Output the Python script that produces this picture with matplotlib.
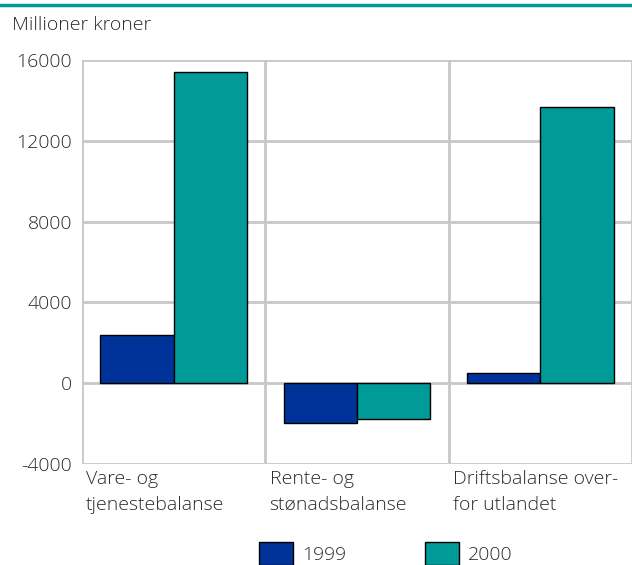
import matplotlib

matplotlib.use("Agg")

import matplotlib.pyplot as plt
import matplotlib.transforms as mtransforms
from matplotlib.lines import Line2D
from matplotlib.patches import Patch

categories = ["Vare- og\ntjenestebalanse", "Rente- og\nstønadsbalanse", "Driftsbalanse over-\nfor utlandet"]
series_names = ["1999", "2000"]
values_1999 = [2400, -1950, 500]
values_2000 = [15400, -1780, 13650]
y_ticks = [-4000, 0, 4000, 8000, 12000, 16000]

BLUE = "#00339a"
TEAL = "#009a98"
GRID = "#c8c8c8"
TEXT = "#2b2b2b"
FS = 14

plt.rcParams["font.family"] = ["Open Sans", "DejaVu Sans"]
plt.rcParams["font.weight"] = "light"

fig = plt.figure(figsize=(6.32, 5.65), dpi=100)
ax = fig.add_axes([82 / 632, 1 - 464 / 565, 1 - 82 / 632, (464 - 60) / 565])

# teal rule across the top
fig.add_artist(Line2D([0, 1], [1 - 5 / 565, 1 - 5 / 565], color=TEAL, lw=2.5,
                      transform=fig.transFigure))

width = 0.4
xs = range(len(categories))
ax.bar([x - width / 2 for x in xs], values_1999, width, color=BLUE,
       edgecolor="black", linewidth=1, zorder=3)
ax.bar([x + width / 2 for x in xs], values_2000, width, color=TEAL,
       edgecolor="black", linewidth=1, zorder=3)

ax.set_xlim(-0.5, len(categories) - 0.5)
ax.set_ylim(-4000, 16000)
ax.set_yticks(y_ticks)
ax.set_yticklabels([str(t) for t in y_ticks], fontsize=FS, color=TEXT)
ax.set_xticks([])
ax.tick_params(axis="y", length=0, pad=7)

for y in y_ticks:
    ax.axhline(y, color=GRID, lw=2, zorder=1)
for x in [-0.5, 0.5, 1.5, 2.5]:
    ax.axvline(x, color=GRID, lw=2, zorder=1)
for spine in ax.spines.values():
    spine.set_visible(False)

label_trans = mtransforms.offset_copy(
    mtransforms.blended_transform_factory(ax.transData, ax.transAxes),
    fig=fig, x=3, y=-4, units="points")
for i, label in enumerate(categories):
    ax.text(i - 0.5, 0, label, transform=label_trans, ha="left", va="top",
            fontsize=FS, color=TEXT, linespacing=1.6)

fig.text(12 / 632, 1 - 25 / 565, "Millioner kroner", fontsize=FS, color=TEXT,
         ha="left", va="center")

handles = [Patch(facecolor=BLUE, edgecolor="black"),
           Patch(facecolor=TEAL, edgecolor="black")]
fig.legend(handles, series_names, loc="lower left", bbox_to_anchor=(259 / 632, 0),
           ncol=2, frameon=False, fontsize=FS, borderpad=0, borderaxespad=0,
           handlelength=1.75, handleheight=1.45, handletextpad=0.45,
           columnspacing=4.05, labelcolor=TEXT)

fig.savefig("out.png", dpi=100)
